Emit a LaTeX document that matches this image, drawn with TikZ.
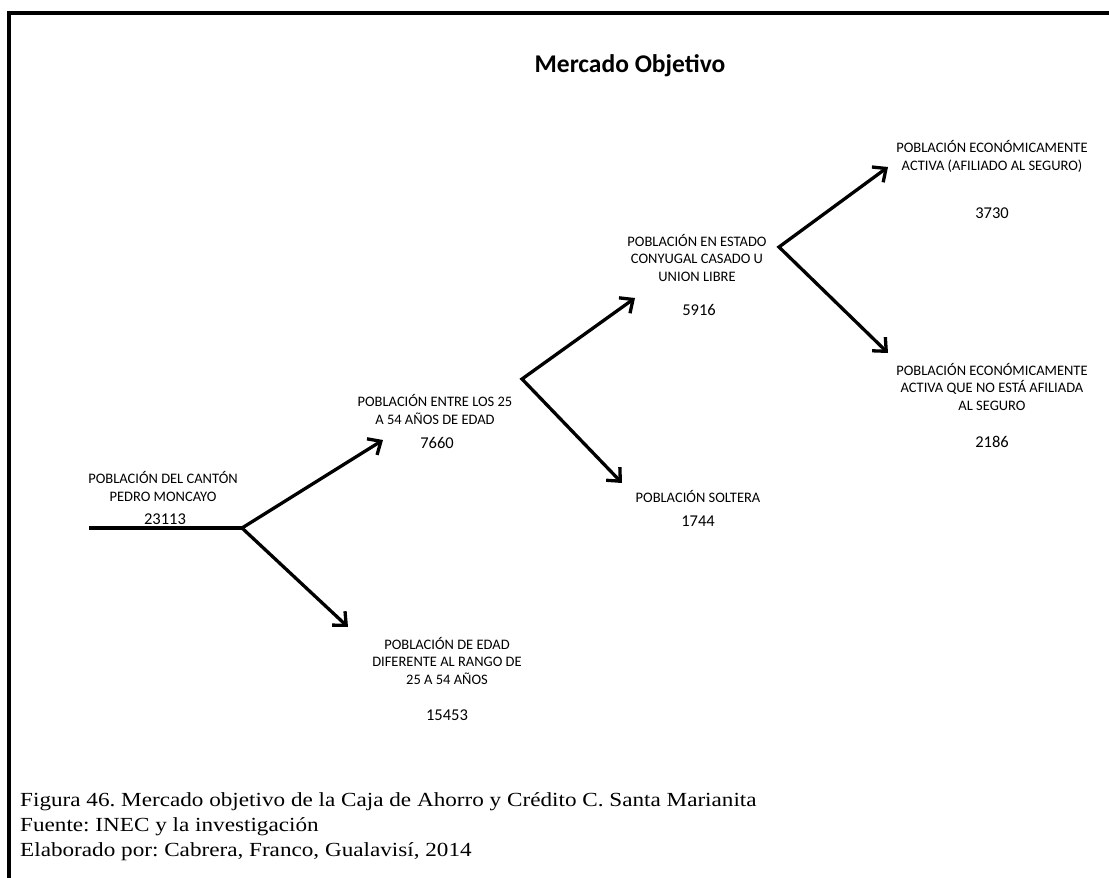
\documentclass[tikz,border=0pt]{standalone}
\usepackage{fontspec}
\usepackage{graphicx}
\setmainfont{Liberation Serif}
\newfontfamily\calfont{Carlito}
\usetikzlibrary{arrows.meta}
\frenchspacing

\begin{document}
\begin{tikzpicture}[x=1pt,y=-1pt,
  lbl/.style={font=\calfont\fontsize{14.5}{17.5}\selectfont, align=center, anchor=base, inner sep=0pt},
  num/.style={font=\calfont\fontsize{16.5}{20}\selectfont, anchor=base, inner sep=0pt},
  captext/.style={font=\fontsize{20}{24}\selectfont, anchor=base west, inner sep=0pt},
  branch/.style={line width=3.3pt, line join=miter},
  barb/.tip={Straight Barb[length=10.5pt,width=19pt]},
  tip/.style={-barb}
]
\useasboundingbox (0,0) rectangle (1109,878);
\fill[white] (0,0) rectangle (1109,878);

% frame (top and left edges)
\draw[line width=4.4pt, line join=miter] (1109,13) -- (9,13) -- (9,878);

% title
\node[font=\calfont\bfseries\fontsize{25.5}{29}\selectfont, anchor=base, inner sep=0pt] (title) at (630,72) {Mercado Objetivo};

% branch points and arrow tips
\coordinate (s0) at (89,528);
\coordinate (b1) at (242,528);
\coordinate (t1) at (383,440);
\coordinate (t2) at (348,627);
\coordinate (b2) at (522,379);
\coordinate (t3) at (635,298);
\coordinate (t4) at (622,483);
\coordinate (b3) at (779,247);
\coordinate (t5) at (888,167);
\coordinate (t6) at (888,353);

% labels (positioned on the baseline of their last line)
\node[lbl] (canton) at (163,501) {POBLACIÓN DEL CANTÓN\\PEDRO MONCAYO};
\node[num] (n23113) at (165,524) {23113};

\node[lbl] (edad) at (435,424) {POBLACIÓN ENTRE LOS 25\\A 54 AÑOS DE EDAD};
\node[num] (n7660) at (437,448) {7660};

\node[lbl] (fuera) at (447,684) {POBLACIÓN DE EDAD\\DIFERENTE AL RANGO DE\\25 A 54 AÑOS};
\node[num] (n15453) at (447,720) {15453};

\node[lbl] (casado) at (697,281) {POBLACIÓN EN ESTADO\\CONYUGAL CASADO U\\UNION LIBRE};
\node[num] (n5916) at (699,315) {5916};

\node[lbl] (soltera) at (698,502) {POBLACIÓN SOLTERA};
\node[num] (n1744) at (698,526) {1744};

\node[lbl] (afiliado) at (992,170) {POBLACIÓN ECONÓMICAMENTE\\ACTIVA (AFILIADO AL SEGURO)};
\node[num] (n3730) at (992,218) {3730};

\node[lbl] (noafiliado) at (992,410) {POBLACIÓN ECONÓMICAMENTE\\ACTIVA QUE NO ESTÁ AFILIADA\\AL SEGURO};
\node[num] (n2186) at (992,447) {2186};

% connectors
\draw[branch] (s0) -- (b1);
\draw[branch, tip] (b1) -- (t1);
\draw[branch, tip] (b1) -- (t2);
\draw[branch, barb-barb] (t3) -- (b2) -- (t4);
\draw[branch, barb-barb] (t5) -- (b3) -- (t6);

% caption
\node[captext] (fig) at (20,806) {\scalebox{1.158}[1]{Figura 46. Mercado objetivo de la Caja de Ahorro y Crédito C. Santa Marianita}};
\node[captext] (fuente) at (20,831) {\scalebox{1.158}[1]{Fuente: INEC y la investigación}};
\node[captext] (elab) at (20,856) {\scalebox{1.158}[1]{Elaborado por: Cabrera, Franco, Gualavisí, 2014}};
\end{tikzpicture}
\end{document}
